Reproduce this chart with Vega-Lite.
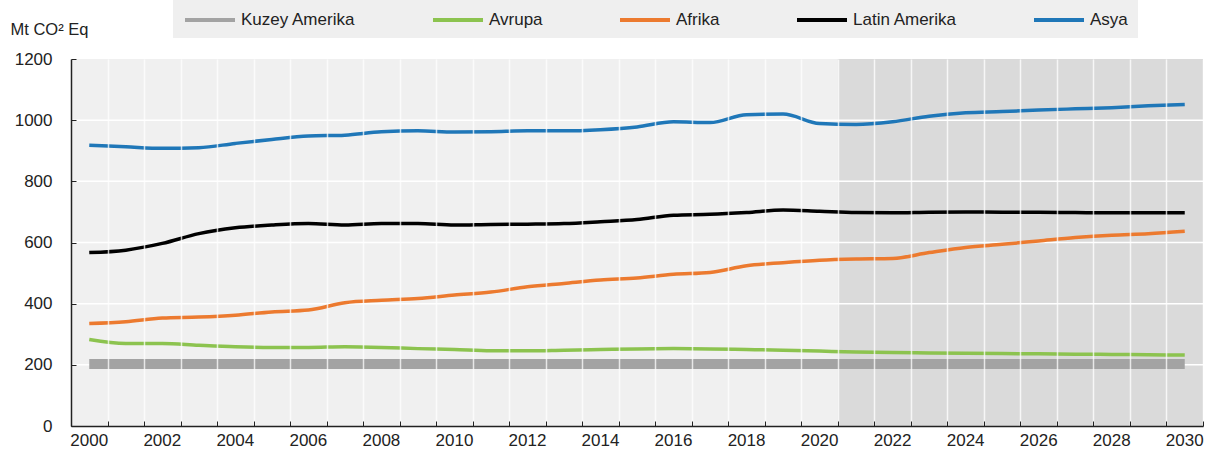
{
  "$schema": "https://vega.github.io/schema/vega-lite/v6.json",
  "width": 1218,
  "height": 456,
  "autosize": {"type": "fit", "contains": "padding"},
  "padding": {"left": 10, "top": 21, "right": 14, "bottom": 8},
  "background": "white",
  "config": {
    "view": {"fill": "#f0f0f0", "stroke": null},
    "font": "Liberation Sans, Arial, sans-serif"
  },
  "resolve": {"axis": {"x": "independent", "y": "independent"}},
  "datasets": {
    "emissions": [
      {"year": 2000, "Kuzey Amerika": 203, "Avrupa": 283, "Afrika": 335, "Latin Amerika": 567, "Asya": 918},
      {"year": 2001, "Kuzey Amerika": 203, "Avrupa": 270, "Afrika": 341, "Latin Amerika": 575, "Asya": 913},
      {"year": 2002, "Kuzey Amerika": 203, "Avrupa": 270, "Afrika": 353, "Latin Amerika": 597, "Asya": 908},
      {"year": 2003, "Kuzey Amerika": 203, "Avrupa": 264, "Afrika": 356, "Latin Amerika": 629, "Asya": 910},
      {"year": 2004, "Kuzey Amerika": 203, "Avrupa": 259, "Afrika": 362, "Latin Amerika": 648, "Asya": 924},
      {"year": 2005, "Kuzey Amerika": 203, "Avrupa": 257, "Afrika": 373, "Latin Amerika": 657, "Asya": 937},
      {"year": 2006, "Kuzey Amerika": 203, "Avrupa": 257, "Afrika": 379, "Latin Amerika": 662, "Asya": 948},
      {"year": 2007, "Kuzey Amerika": 203, "Avrupa": 259, "Afrika": 403, "Latin Amerika": 657, "Asya": 951},
      {"year": 2008, "Kuzey Amerika": 203, "Avrupa": 257, "Afrika": 411, "Latin Amerika": 662, "Asya": 962},
      {"year": 2009, "Kuzey Amerika": 203, "Avrupa": 253, "Afrika": 417, "Latin Amerika": 662, "Asya": 965},
      {"year": 2010, "Kuzey Amerika": 203, "Avrupa": 250, "Afrika": 428, "Latin Amerika": 657, "Asya": 961},
      {"year": 2011, "Kuzey Amerika": 203, "Avrupa": 246, "Afrika": 438, "Latin Amerika": 659, "Asya": 962},
      {"year": 2012, "Kuzey Amerika": 203, "Avrupa": 246, "Afrika": 455, "Latin Amerika": 660, "Asya": 965},
      {"year": 2013, "Kuzey Amerika": 203, "Avrupa": 248, "Afrika": 466, "Latin Amerika": 662, "Asya": 965},
      {"year": 2014, "Kuzey Amerika": 203, "Avrupa": 250, "Afrika": 477, "Latin Amerika": 668, "Asya": 969},
      {"year": 2015, "Kuzey Amerika": 203, "Avrupa": 252, "Afrika": 484, "Latin Amerika": 675, "Asya": 978},
      {"year": 2016, "Kuzey Amerika": 203, "Avrupa": 253, "Afrika": 496, "Latin Amerika": 689, "Asya": 995},
      {"year": 2017, "Kuzey Amerika": 203, "Avrupa": 252, "Afrika": 502, "Latin Amerika": 692, "Asya": 992},
      {"year": 2018, "Kuzey Amerika": 203, "Avrupa": 250, "Afrika": 524, "Latin Amerika": 698, "Asya": 1018},
      {"year": 2019, "Kuzey Amerika": 203, "Avrupa": 248, "Afrika": 534, "Latin Amerika": 706, "Asya": 1020},
      {"year": 2020, "Kuzey Amerika": 203, "Avrupa": 245, "Afrika": 542, "Latin Amerika": 702, "Asya": 989},
      {"year": 2021, "Kuzey Amerika": 203, "Avrupa": 242, "Afrika": 546, "Latin Amerika": 698, "Asya": 986},
      {"year": 2022, "Kuzey Amerika": 203, "Avrupa": 240, "Afrika": 548, "Latin Amerika": 697, "Asya": 995},
      {"year": 2023, "Kuzey Amerika": 203, "Avrupa": 239, "Afrika": 567, "Latin Amerika": 699, "Asya": 1013},
      {"year": 2024, "Kuzey Amerika": 203, "Avrupa": 238, "Afrika": 584, "Latin Amerika": 700, "Asya": 1024},
      {"year": 2025, "Kuzey Amerika": 203, "Avrupa": 237, "Afrika": 594, "Latin Amerika": 699, "Asya": 1028},
      {"year": 2026, "Kuzey Amerika": 203, "Avrupa": 236, "Afrika": 605, "Latin Amerika": 699, "Asya": 1033},
      {"year": 2027, "Kuzey Amerika": 203, "Avrupa": 235, "Afrika": 616, "Latin Amerika": 698, "Asya": 1037},
      {"year": 2028, "Kuzey Amerika": 203, "Avrupa": 234, "Afrika": 624, "Latin Amerika": 697, "Asya": 1041},
      {"year": 2029, "Kuzey Amerika": 203, "Avrupa": 233, "Afrika": 629, "Latin Amerika": 697, "Asya": 1047},
      {"year": 2030, "Kuzey Amerika": 203, "Avrupa": 232, "Afrika": 637, "Latin Amerika": 697, "Asya": 1051}
    ],
    "forecast": [
      {"year": 2021}, {"year": 2022}, {"year": 2023}, {"year": 2024}, {"year": 2025},
      {"year": 2026}, {"year": 2027}, {"year": 2028}, {"year": 2029}, {"year": 2030}
    ],
    "ygrid": [
      {"level": 200}, {"level": 400}, {"level": 600}, {"level": 800}, {"level": 1000}
    ]
  },
  "layer": [
    {
      "data": {"name": "forecast"},
      "mark": {"type": "rect", "color": "#dadada"},
      "encoding": {
        "x": {
          "field": "year",
          "type": "ordinal",
          "scale": {"type": "band", "paddingInner": 0, "paddingOuter": 0},
          "axis": {
            "orient": "bottom",
            "title": null,
            "tickBand": "extent",
            "labels": false,
            "domain": false,
            "ticks": true,
            "tickSize": -5,
            "tickColor": "#222222",
            "grid": true,
            "gridColor": "white",
            "gridWidth": 1.5,
            "gridOpacity": 0.75,
            "zindex": 1
          }
        },
        "y": {"datum": 0, "type": "quantitative", "axis": null},
        "y2": {"datum": 1200}
      }
    },
    {
      "data": {"name": "ygrid"},
      "mark": {"type": "rule", "color": "white", "strokeWidth": 1.5},
      "encoding": {
        "y": {"field": "level", "type": "quantitative", "axis": null}
      }
    },
    {
      "data": {"name": "emissions"},
      "transform": [
        {"fold": ["Kuzey Amerika", "Avrupa", "Afrika", "Latin Amerika", "Asya"], "as": ["series", "value"]},
        {"filter": "datum.series == 'Kuzey Amerika'"}
      ],
      "mark": {"type": "line", "interpolate": "monotone", "strokeWidth": 10},
      "encoding": {
        "x": {"field": "year", "type": "ordinal", "bandPosition": 0.5, "axis": null},
        "y": {"field": "value", "type": "quantitative", "axis": null},
        "color": {
          "field": "series",
          "type": "nominal",
          "scale": {
            "domain": ["Kuzey Amerika", "Avrupa", "Afrika", "Latin Amerika", "Asya"],
            "range": ["#a3a3a3", "#8cc34f", "#ec7a2f", "#000000", "#1f77b8"]
          },
          "legend": {
            "orient": "none",
            "legendX": 102,
            "legendY": -76,
            "direction": "horizontal",
            "columns": 5,
            "title": null,
            "fillColor": "#efefef",
            "padding": 10,
            "symbolType": "stroke",
            "symbolSize": 2500,
            "symbolStrokeWidth": 4,
            "labelFontSize": 17,
            "labelColor": "#222222",
            "labelOffset": 4,
            "columnPadding": 69
          }
        }
      }
    },
    {
      "data": {"name": "emissions"},
      "transform": [
        {"fold": ["Kuzey Amerika", "Avrupa", "Afrika", "Latin Amerika", "Asya"], "as": ["series", "value"]},
        {"filter": "datum.series != 'Kuzey Amerika'"}
      ],
      "mark": {"type": "line", "interpolate": "monotone", "strokeWidth": 3.5},
      "encoding": {
        "x": {
          "field": "year",
          "type": "ordinal",
          "bandPosition": 0.5,
          "axis": {
            "orient": "bottom",
            "title": null,
            "labelExpr": "datum.value % 2 == 0 ? datum.label : ''",
            "labelAngle": 0,
            "labelOverlap": false,
            "labelFontSize": 17,
            "labelColor": "#222222",
            "labelPadding": 6,
            "ticks": false,
            "grid": false,
            "domainColor": "#222222",
            "domainWidth": 1.5,
            "zindex": 1
          }
        },
        "y": {
          "field": "value",
          "type": "quantitative",
          "scale": {"domain": [0, 1200], "nice": false},
          "axis": {
            "orient": "left",
            "title": "Mt CO² Eq",
            "titleAngle": 0,
            "titleAlign": "left",
            "titleBaseline": "middle",
            "titleX": -61,
            "titleY": -30,
            "titleFontSize": 16.5,
            "titleFontWeight": "normal",
            "titleColor": "#222222",
            "values": [0, 200, 400, 600, 800, 1000, 1200],
            "format": "d",
            "labelFontSize": 17,
            "labelColor": "#222222",
            "labelPadding": 24,
            "grid": false,
            "tickSize": -5,
            "tickColor": "#222222",
            "domainColor": "#222222",
            "domainWidth": 1.5,
            "zindex": 1
          }
        },
        "color": {
          "field": "series",
          "type": "nominal",
          "scale": {
            "domain": ["Kuzey Amerika", "Avrupa", "Afrika", "Latin Amerika", "Asya"],
            "range": ["#a3a3a3", "#8cc34f", "#ec7a2f", "#000000", "#1f77b8"]
          },
          "legend": {
            "orient": "none",
            "legendX": 102,
            "legendY": -76,
            "direction": "horizontal",
            "columns": 5,
            "title": null,
            "fillColor": "#efefef",
            "padding": 10,
            "symbolType": "stroke",
            "symbolSize": 2500,
            "symbolStrokeWidth": 4,
            "labelFontSize": 17,
            "labelColor": "#222222",
            "labelOffset": 4,
            "columnPadding": 69
          }
        }
      }
    }
  ]
}
